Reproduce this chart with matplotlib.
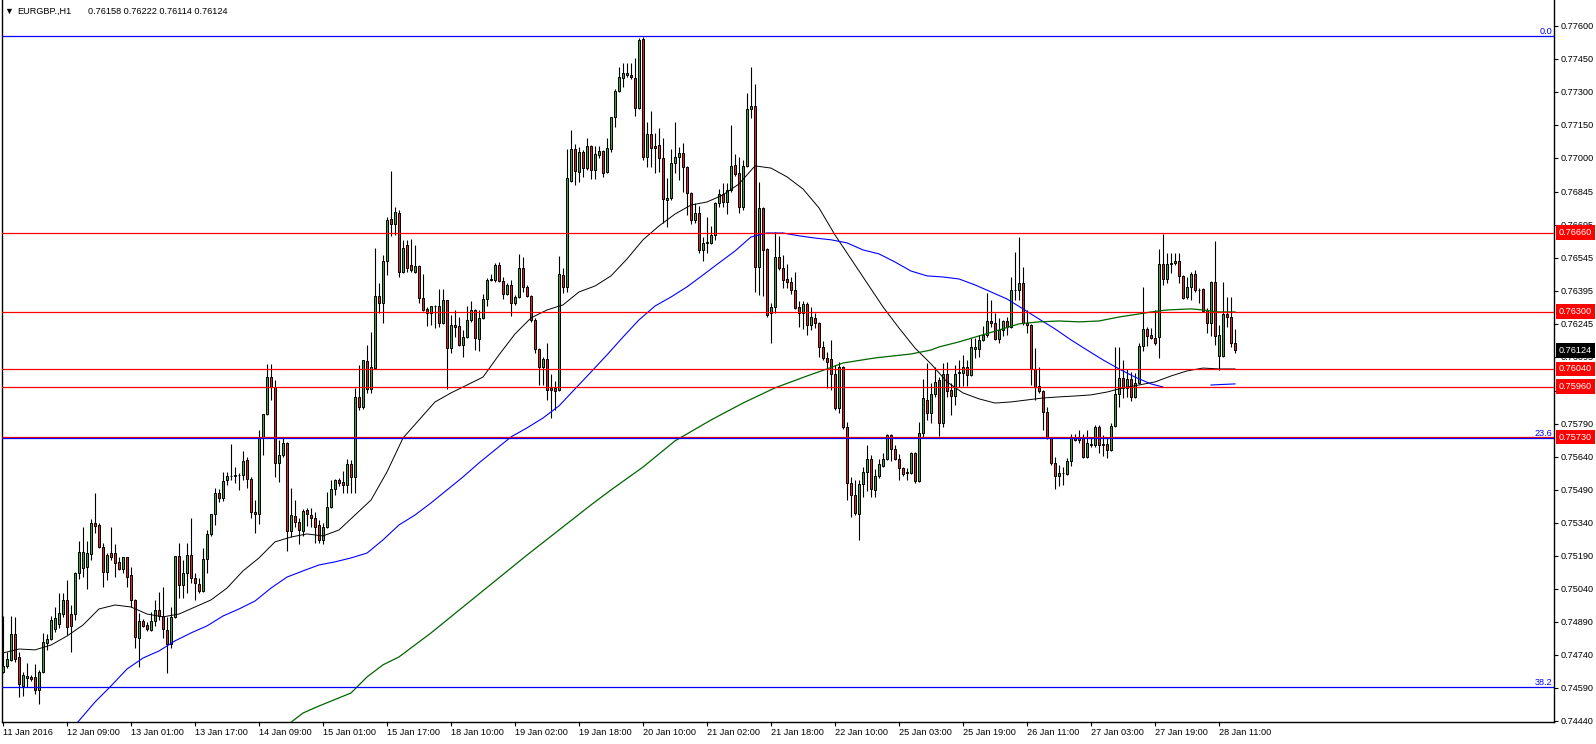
import numpy as np
import matplotlib
matplotlib.use("Agg")
import matplotlib.pyplot as plt
from matplotlib.transforms import blended_transform_factory

plt.rcParams['font.family'] = ['Liberation Sans', 'DejaVu Sans']

# EURGBP H1, first visible bar is 11 Jan 17:00, last is 28 Jan 15:00
symbol = "EURGBP.,H1"
last_ohlc = "0.76158 0.76222 0.76114 0.76124"

opens = [
    0.74663, 0.74690, 0.74717, 0.74835, 0.74731, 0.74599, 0.74636, 0.74640, 0.74640, 0.74581,
    0.74663, 0.74795, 0.74813, 0.74858, 0.74881, 0.74926, 0.74990, 0.74926, 0.74926, 0.75112,
    0.75135, 0.75140, 0.75199, 0.75340, 0.75331, 0.75231, 0.75117, 0.75203, 0.75203, 0.75163,
    0.75131, 0.75185, 0.75104, 0.74990, 0.74817, 0.74895, 0.74876, 0.74854, 0.74895, 0.74945,
    0.74917, 0.74854, 0.74790, 0.74913, 0.75190, 0.75058, 0.75112, 0.75194, 0.75090, 0.75063,
    0.75031, 0.75176, 0.75290, 0.75381, 0.75476, 0.75453, 0.75535, 0.75553, 0.75553, 0.75558,
    0.75558, 0.75626, 0.75540, 0.75390, 0.75381, 0.75726, 0.75835, 0.76003, 0.75958, 0.75613,
    0.75649, 0.75703, 0.75303, 0.75372, 0.75344, 0.75303, 0.75399, 0.75376, 0.75363, 0.75331,
    0.75263, 0.75322, 0.75413, 0.75494, 0.75535, 0.75526, 0.75513, 0.75608, 0.75549, 0.75913,
    0.75867, 0.76076, 0.75949, 0.76044, 0.76372, 0.76340, 0.76531, 0.76722, 0.76699, 0.76749,
    0.76481, 0.76604, 0.76513, 0.76481, 0.76508, 0.76363, 0.76313, 0.76295, 0.76326, 0.76326,
    0.76249, 0.76353, 0.76135, 0.76240, 0.76236, 0.76149, 0.76186, 0.76263, 0.76308, 0.76176,
    0.76272, 0.76358, 0.76445, 0.76445, 0.76513, 0.76440, 0.76381, 0.76422, 0.76340, 0.76367,
    0.76499, 0.76413, 0.76372, 0.76263, 0.76131, 0.76049, 0.76085, 0.75954, 0.75954, 0.75945,
    0.76467, 0.76413, 0.76894, 0.77040, 0.76935, 0.77026, 0.76953, 0.77053, 0.76944, 0.77013,
    0.77031, 0.76935, 0.77040, 0.77185, 0.77303, 0.77362, 0.77376, 0.77376, 0.77362, 0.77226,
    0.77540, 0.77003, 0.77108, 0.77053, 0.77058, 0.76999, 0.76808, 0.76817, 0.76976, 0.77003,
    0.77022, 0.76958, 0.76840, 0.76717, 0.76749, 0.76581, 0.76613, 0.76613, 0.76649, 0.76795,
    0.76836, 0.76799, 0.76854, 0.76967, 0.76931, 0.76776, 0.76963, 0.77222, 0.77235, 0.76503,
    0.76772, 0.76585, 0.76295, 0.76322, 0.76549, 0.76499, 0.76449, 0.76435, 0.76399, 0.76322,
    0.76295, 0.76335, 0.76240, 0.76272, 0.76249, 0.76140, 0.76090, 0.76085, 0.76017, 0.75863,
    0.76049, 0.75776, 0.75522, 0.75467, 0.75381, 0.75517, 0.75572, 0.75631, 0.75490, 0.75553,
    0.75599, 0.75631, 0.75740, 0.75676, 0.75631, 0.75590, 0.75567, 0.75567, 0.75658, 0.75531,
    0.75749, 0.75899, 0.75840, 0.75926, 0.75990, 0.75794, 0.76017, 0.75945, 0.75917, 0.76022,
    0.76022, 0.76049, 0.76013, 0.76131, 0.76131, 0.76172, 0.76194, 0.76258, 0.76249, 0.76176,
    0.76217, 0.76258, 0.76231, 0.76399, 0.76399, 0.76431, 0.76249, 0.76240, 0.76040, 0.75963,
    0.75940, 0.75844, 0.75726, 0.75613, 0.75553, 0.75567, 0.75563, 0.75622, 0.75731, 0.75717,
    0.75731, 0.75640, 0.75694, 0.75694, 0.75776, 0.75699, 0.75699, 0.75672, 0.75781, 0.75926,
    0.75999, 0.75954, 0.75994, 0.75913, 0.75976, 0.76144, 0.76222, 0.76194, 0.76181, 0.76185,
    0.76517, 0.76449, 0.76517, 0.76522, 0.76531, 0.76463, 0.76367, 0.76413, 0.76472, 0.76399,
    0.76404, 0.76308, 0.76249, 0.76435, 0.76099, 0.76099, 0.76290, 0.76276, 0.76158,
]
highs = [
    0.74917, 0.74754, 0.74917, 0.74913, 0.74754, 0.74663, 0.74704, 0.74649, 0.74699, 0.74672,
    0.74840, 0.74835, 0.74917, 0.74958, 0.75022, 0.75022, 0.75081, 0.74967, 0.75117, 0.75258,
    0.75322, 0.75258, 0.75358, 0.75476, 0.75340, 0.75249, 0.75203, 0.75322, 0.75244, 0.75185,
    0.75185, 0.75185, 0.75140, 0.74995, 0.74931, 0.74904, 0.74890, 0.74936, 0.74990, 0.75026,
    0.75049, 0.74913, 0.74958, 0.75190, 0.75249, 0.75172, 0.75249, 0.75363, 0.75112, 0.75090,
    0.75226, 0.75308, 0.75381, 0.75499, 0.75494, 0.75572, 0.75572, 0.75699, 0.75594, 0.75567,
    0.75667, 0.75640, 0.75549, 0.75444, 0.75763, 0.75835, 0.76063, 0.76063, 0.75990, 0.75717,
    0.75731, 0.75708, 0.75499, 0.75444, 0.75363, 0.75404, 0.75408, 0.75408, 0.75390, 0.75353,
    0.75340, 0.75481, 0.75535, 0.75540, 0.75544, 0.75576, 0.75631, 0.75626, 0.75954, 0.76058,
    0.76081, 0.76149, 0.76208, 0.76590, 0.76431, 0.76558, 0.76731, 0.76940, 0.76777, 0.76763,
    0.76627, 0.76627, 0.76631, 0.76604, 0.76513, 0.76472, 0.76322, 0.76326, 0.76331, 0.76404,
    0.76404, 0.76353, 0.76285, 0.76308, 0.76276, 0.76217, 0.76326, 0.76349, 0.76313, 0.76308,
    0.76381, 0.76454, 0.76472, 0.76522, 0.76526, 0.76458, 0.76431, 0.76445, 0.76376, 0.76563,
    0.76549, 0.76422, 0.76376, 0.76272, 0.76135, 0.76094, 0.76158, 0.76017, 0.75985, 0.76554,
    0.76499, 0.77040, 0.77126, 0.77063, 0.77049, 0.77035, 0.77090, 0.77058, 0.77053, 0.77053,
    0.77035, 0.77090, 0.77185, 0.77313, 0.77412, 0.77431, 0.77431, 0.77431, 0.77453, 0.77544,
    0.77549, 0.77162, 0.77212, 0.77112, 0.77135, 0.77090, 0.76908, 0.77040, 0.77162, 0.77049,
    0.77067, 0.76963, 0.76845, 0.76795, 0.76781, 0.76640, 0.76731, 0.76690, 0.76799, 0.76858,
    0.76885, 0.76885, 0.77149, 0.77017, 0.77003, 0.76990, 0.77294, 0.77412, 0.77335, 0.76890,
    0.76777, 0.76590, 0.76340, 0.76663, 0.76645, 0.76558, 0.76517, 0.76458, 0.76481, 0.76349,
    0.76349, 0.76345, 0.76322, 0.76295, 0.76254, 0.76167, 0.76117, 0.76172, 0.76058, 0.76072,
    0.76053, 0.75799, 0.75549, 0.75535, 0.75535, 0.75594, 0.75694, 0.75649, 0.75585, 0.75631,
    0.75658, 0.75744, 0.75744, 0.75694, 0.75654, 0.75594, 0.75590, 0.75663, 0.75663, 0.75799,
    0.75994, 0.76067, 0.75976, 0.76049, 0.76003, 0.76067, 0.76072, 0.75976, 0.76058, 0.76081,
    0.76104, 0.76081, 0.76181, 0.76181, 0.76194, 0.76236, 0.76385, 0.76353, 0.76295, 0.76272,
    0.76263, 0.76276, 0.76458, 0.76572, 0.76640, 0.76503, 0.76308, 0.76245, 0.76135, 0.76049,
    0.75945, 0.75867, 0.75731, 0.75640, 0.75604, 0.75594, 0.75635, 0.75744, 0.75744, 0.75763,
    0.75744, 0.75763, 0.75731, 0.75785, 0.75785, 0.75740, 0.75731, 0.75794, 0.76140, 0.76140,
    0.76081, 0.76040, 0.76026, 0.76022, 0.76158, 0.76413, 0.76231, 0.76226, 0.76308, 0.76585,
    0.76653, 0.76567, 0.76567, 0.76567, 0.76567, 0.76467, 0.76458, 0.76481, 0.76490, 0.76408,
    0.76408, 0.76317, 0.76440, 0.76622, 0.76240, 0.76435, 0.76367, 0.76367, 0.76222,
]
lows = [
    0.74658, 0.74681, 0.74712, 0.74708, 0.74549, 0.74554, 0.74595, 0.74622, 0.74563, 0.74517,
    0.74658, 0.74763, 0.74808, 0.74845, 0.74863, 0.74913, 0.74831, 0.74754, 0.74899, 0.75085,
    0.75094, 0.75040, 0.75172, 0.75294, 0.75226, 0.75049, 0.75081, 0.75172, 0.75094, 0.75126,
    0.75112, 0.75049, 0.74958, 0.74772, 0.74686, 0.74867, 0.74849, 0.74849, 0.74872, 0.74899,
    0.74817, 0.74658, 0.74772, 0.74908, 0.74999, 0.74999, 0.75022, 0.75067, 0.74990, 0.75022,
    0.75026, 0.75112, 0.75281, 0.75331, 0.75435, 0.75440, 0.75513, 0.75535, 0.75522, 0.75490,
    0.75535, 0.75499, 0.75363, 0.75294, 0.75335, 0.75649, 0.75831, 0.75899, 0.75549, 0.75526,
    0.75640, 0.75213, 0.75276, 0.75322, 0.75244, 0.75281, 0.75326, 0.75322, 0.75249, 0.75249,
    0.75244, 0.75317, 0.75408, 0.75467, 0.75508, 0.75476, 0.75476, 0.75476, 0.75476, 0.75853,
    0.75858, 0.75931, 0.75931, 0.76040, 0.76295, 0.76249, 0.76467, 0.76645, 0.76649, 0.76458,
    0.76476, 0.76481, 0.76481, 0.76476, 0.76340, 0.76304, 0.76236, 0.76240, 0.76226, 0.76231,
    0.76245, 0.75949, 0.76113, 0.76186, 0.76144, 0.76094, 0.76181, 0.76254, 0.76126, 0.76122,
    0.76267, 0.76326, 0.76440, 0.76435, 0.76435, 0.76358, 0.76376, 0.76281, 0.76331, 0.76363,
    0.76390, 0.76367, 0.76254, 0.76113, 0.75967, 0.75967, 0.75899, 0.75817, 0.75853, 0.75940,
    0.76385, 0.76390, 0.76890, 0.76876, 0.76890, 0.76913, 0.76944, 0.76903, 0.76903, 0.76999,
    0.76913, 0.76930, 0.77026, 0.77140, 0.77299, 0.77322, 0.77367, 0.77358, 0.77190, 0.77222,
    0.76990, 0.76958, 0.76958, 0.76931, 0.76935, 0.76703, 0.76685, 0.76808, 0.76931, 0.76899,
    0.76844, 0.76740, 0.76699, 0.76703, 0.76568, 0.76531, 0.76568, 0.76608, 0.76627, 0.76776,
    0.76776, 0.76745, 0.76845, 0.76917, 0.76749, 0.76763, 0.76958, 0.77181, 0.76390, 0.76376,
    0.76372, 0.76276, 0.76158, 0.76295, 0.76490, 0.76408, 0.76408, 0.76381, 0.76313, 0.76231,
    0.76222, 0.76195, 0.76217, 0.76226, 0.76094, 0.76081, 0.75954, 0.75945, 0.75853, 0.75840,
    0.75767, 0.75444, 0.75367, 0.75376, 0.75263, 0.75458, 0.75485, 0.75458, 0.75458, 0.75544,
    0.75594, 0.75626, 0.75622, 0.75626, 0.75535, 0.75553, 0.75535, 0.75563, 0.75522, 0.75526,
    0.75726, 0.75808, 0.75794, 0.75913, 0.75735, 0.75776, 0.75913, 0.75831, 0.75876, 0.75958,
    0.75963, 0.75963, 0.76008, 0.76090, 0.76094, 0.76167, 0.76185, 0.76231, 0.76172, 0.76158,
    0.76190, 0.76194, 0.76226, 0.76353, 0.76353, 0.76240, 0.76204, 0.75967, 0.75899, 0.75931,
    0.75763, 0.75722, 0.75604, 0.75494, 0.75508, 0.75513, 0.75558, 0.75599, 0.75713, 0.75703,
    0.75635, 0.75635, 0.75685, 0.75685, 0.75658, 0.75644, 0.75635, 0.75667, 0.75776, 0.75867,
    0.75908, 0.75913, 0.75894, 0.75908, 0.75972, 0.76122, 0.76144, 0.76176, 0.76149, 0.76090,
    0.76422, 0.76431, 0.76476, 0.76513, 0.76431, 0.76358, 0.76358, 0.76353, 0.76390, 0.76340,
    0.76299, 0.76204, 0.76190, 0.76149, 0.76035, 0.76094, 0.76231, 0.76140, 0.76114,
]
closes = [
    0.74690, 0.74722, 0.74835, 0.74722, 0.74608, 0.74649, 0.74645, 0.74631, 0.74581, 0.74663,
    0.74799, 0.74813, 0.74899, 0.74908, 0.74931, 0.74990, 0.74867, 0.74872, 0.75112, 0.75208,
    0.75208, 0.75203, 0.75340, 0.75326, 0.75231, 0.75117, 0.75194, 0.75185, 0.75158, 0.75131,
    0.75185, 0.75094, 0.74990, 0.74822, 0.74895, 0.74872, 0.74858, 0.74895, 0.74945, 0.74917,
    0.74858, 0.74790, 0.74913, 0.75190, 0.75058, 0.75112, 0.75194, 0.75090, 0.75067, 0.75031,
    0.75176, 0.75290, 0.75381, 0.75476, 0.75453, 0.75531, 0.75553, 0.75555, 0.75558, 0.75556,
    0.75622, 0.75540, 0.75390, 0.75381, 0.75726, 0.75835, 0.76003, 0.75958, 0.75613, 0.75649,
    0.75703, 0.75303, 0.75376, 0.75344, 0.75308, 0.75394, 0.75381, 0.75363, 0.75322, 0.75263,
    0.75322, 0.75413, 0.75494, 0.75535, 0.75522, 0.75513, 0.75608, 0.75549, 0.75913, 0.75867,
    0.76081, 0.75949, 0.76049, 0.76372, 0.76340, 0.76531, 0.76717, 0.76699, 0.76754, 0.76481,
    0.76590, 0.76499, 0.76490, 0.76508, 0.76363, 0.76308, 0.76295, 0.76326, 0.76324, 0.76249,
    0.76353, 0.76135, 0.76240, 0.76231, 0.76149, 0.76186, 0.76263, 0.76308, 0.76181, 0.76272,
    0.76358, 0.76445, 0.76449, 0.76513, 0.76440, 0.76381, 0.76422, 0.76340, 0.76367, 0.76499,
    0.76413, 0.76372, 0.76263, 0.76131, 0.76049, 0.76085, 0.75945, 0.75945, 0.75940, 0.76472,
    0.76413, 0.76908, 0.77040, 0.76940, 0.77026, 0.76953, 0.77053, 0.76944, 0.77017, 0.77031,
    0.76931, 0.77044, 0.77185, 0.77303, 0.77367, 0.77385, 0.77385, 0.77367, 0.77226, 0.77535,
    0.77003, 0.77108, 0.77044, 0.77044, 0.76999, 0.76813, 0.76817, 0.76976, 0.77003, 0.77022,
    0.76958, 0.76840, 0.76717, 0.76749, 0.76581, 0.76613, 0.76617, 0.76649, 0.76795, 0.76836,
    0.76799, 0.76854, 0.76963, 0.76926, 0.76776, 0.76963, 0.77222, 0.77235, 0.76503, 0.76772,
    0.76581, 0.76285, 0.76322, 0.76549, 0.76499, 0.76445, 0.76435, 0.76399, 0.76317, 0.76295,
    0.76335, 0.76240, 0.76276, 0.76249, 0.76140, 0.76090, 0.76072, 0.76017, 0.75863, 0.76049,
    0.75776, 0.75522, 0.75467, 0.75385, 0.75517, 0.75572, 0.75631, 0.75494, 0.75553, 0.75608,
    0.75631, 0.75740, 0.75676, 0.75631, 0.75590, 0.75563, 0.75572, 0.75658, 0.75531, 0.75749,
    0.75908, 0.75840, 0.75926, 0.75981, 0.75794, 0.76017, 0.75940, 0.75917, 0.76017, 0.76026,
    0.76049, 0.76013, 0.76140, 0.76140, 0.76172, 0.76194, 0.76258, 0.76249, 0.76176, 0.76217,
    0.76258, 0.76231, 0.76399, 0.76397, 0.76431, 0.76249, 0.76240, 0.76040, 0.75958, 0.75940,
    0.75844, 0.75726, 0.75613, 0.75553, 0.75567, 0.75569, 0.75622, 0.75731, 0.75717, 0.75731,
    0.75640, 0.75703, 0.75699, 0.75776, 0.75694, 0.75694, 0.75672, 0.75781, 0.75926, 0.75999,
    0.75954, 0.75994, 0.75913, 0.75976, 0.76144, 0.76222, 0.76190, 0.76181, 0.76158, 0.76517,
    0.76449, 0.76517, 0.76522, 0.76531, 0.76463, 0.76363, 0.76413, 0.76472, 0.76399, 0.76397,
    0.76304, 0.76249, 0.76435, 0.76190, 0.76194, 0.76290, 0.76276, 0.76158, 0.76124,
]

# moving averages (bar index, price)
ma_black_idx = list(range(0, 309, 4))
ma_black = [
    0.74749, 0.74767, 0.74763, 0.74785, 0.74826, 0.74876, 0.74949, 0.74967, 0.74958, 0.74926,
    0.74913, 0.74926, 0.74958, 0.74990, 0.75044, 0.75122, 0.75181, 0.75254, 0.75276, 0.75290,
    0.75281, 0.75308, 0.75376, 0.75444, 0.75572, 0.75726, 0.75808, 0.75890, 0.75931, 0.75967,
    0.76003, 0.76104, 0.76199, 0.76272, 0.76308, 0.76331, 0.76390, 0.76417, 0.76463, 0.76540,
    0.76627, 0.76690, 0.76744, 0.76785, 0.76799, 0.76831, 0.76881, 0.76963, 0.76953, 0.76913,
    0.76858, 0.76772, 0.76649, 0.76540, 0.76431, 0.76322, 0.76226, 0.76135, 0.76063, 0.75981,
    0.75931, 0.75904, 0.75885, 0.75890, 0.75899, 0.75908, 0.75913, 0.75917, 0.75922, 0.75935,
    0.75954, 0.75967, 0.75981, 0.76008, 0.76031, 0.76044, 0.76040, 0.76040,
]
ma_blue_idx = [
    18, 23, 27, 31, 35, 39, 43, 47, 51, 55, 59, 63, 67, 71, 75, 79, 83, 87, 91, 95,
    99, 103, 107, 111, 115, 119, 123, 127, 131, 135, 139, 143, 147, 151, 155, 159, 163, 167, 171, 175,
    179, 183, 187, 191, 195, 199, 203, 207, 211, 215, 219, 223, 227, 231, 235, 239, 243, 247, 251, 255,
    259, 263, 267, 271, 275, 279, 283, 287, 290, 296, 302, 308,
]
ma_blue = [
    0.74420, 0.74526, 0.74599, 0.74676, 0.74726, 0.74758, 0.74804, 0.74840, 0.74872, 0.74917,
    0.74949, 0.74985, 0.75044, 0.75094, 0.75122, 0.75149, 0.75163, 0.75181, 0.75203, 0.75263,
    0.75331, 0.75376, 0.75431, 0.75490, 0.75549, 0.75613, 0.75672, 0.75731, 0.75772, 0.75817,
    0.75872, 0.75949, 0.76026, 0.76104, 0.76185, 0.76263, 0.76326, 0.76367, 0.76413, 0.76467,
    0.76522, 0.76576, 0.76640, 0.76658, 0.76658, 0.76645, 0.76635, 0.76627, 0.76613, 0.76581,
    0.76563, 0.76526, 0.76485, 0.76463, 0.76458, 0.76449, 0.76422, 0.76390, 0.76358, 0.76313,
    0.76267, 0.76222, 0.76172, 0.76126, 0.76081, 0.76040, 0.76003, 0.75972, 0.75958, None,
    0.75967, 0.75972,
]
ma_green_idx = [
    71, 75, 79, 87, 91, 95, 99, 107, 115, 123, 131, 139, 147, 152, 160, 168, 177, 185, 193, 201,
    206, 210, 218, 227, 232, 234, 239, 244, 249, 254, 259, 264, 269, 274, 279, 284, 287, 291, 297, 300,
    304, 308,
]
ma_green = [
    0.74420, 0.74476, 0.74508, 0.74567, 0.74640, 0.74695, 0.74731, 0.74840, 0.74958, 0.75076,
    0.75194, 0.75308, 0.75422, 0.75490, 0.75594, 0.75713, 0.75808, 0.75885, 0.75954, 0.76008,
    0.76040, 0.76067, 0.76090, 0.76108, 0.76126, 0.76140, 0.76163, 0.76190, 0.76217, 0.76245,
    0.76254, 0.76258, 0.76254, 0.76258, 0.76276, 0.76290, 0.76299, 0.76308, 0.76313, 0.76308,
    0.76299, 0.76299,
]

sr_levels = [0.76660, 0.76300, 0.76040, 0.75960, 0.75730]
fib_levels = [0.77553, 0.75726, 0.74593]
fib_names = ["0.0", "23.6", "38.2"]
current_price = 0.76124

time_labels = [
    "11 Jan 2016", "12 Jan 09:00", "13 Jan 01:00", "13 Jan 17:00", "14 Jan 09:00",
    "15 Jan 01:00", "15 Jan 17:00", "18 Jan 10:00", "19 Jan 02:00", "19 Jan 18:00",
    "20 Jan 10:00", "21 Jan 02:00", "21 Jan 18:00", "22 Jan 10:00", "25 Jan 03:00",
    "25 Jan 19:00", "26 Jan 11:00", "27 Jan 03:00", "27 Jan 19:00", "28 Jan 11:00",
]
price_ticks = [
    0.77600, 0.77450, 0.77300, 0.77150, 0.77000, 0.76845, 0.76695, 0.76545, 0.76395, 0.76245,
    0.76095, 0.75940, 0.75790, 0.75640, 0.75490, 0.75340, 0.75190, 0.75040, 0.74890, 0.74740,
    0.74590, 0.74440,
]

BULL = '#3fa23f'
BEAR = '#d92424'
FS = 6.6

W, H = 1596, 744
fig = plt.figure(figsize=(W / 100, H / 100), dpi=100)
fig.patch.set_facecolor('white')
# chart area: x 2..1554 px, y 0..722 px
ax = fig.add_axes([2 / W, 22 / H, 1552 / W, 722 / H])
ax.set_xlim(-0.25, 387.75)
ax.set_ylim(0.744352, 0.77717)

o = np.array(opens)
h = np.array(highs)
l = np.array(lows)
c = np.array(closes)
x = np.arange(len(o))
up = c >= o

ax.vlines(x, l, h, color='black', lw=0.8, zorder=2)
ax.bar(x[up], (c - o)[up], bottom=o[up], width=0.55, color=BULL,
       edgecolor='black', linewidth=0.7, zorder=3)
ax.bar(x[~up], (c - o)[~up], bottom=o[~up], width=0.55, color=BEAR,
       edgecolor='black', linewidth=0.7, zorder=3)

ax.plot(ma_black_idx, ma_black, color='black', lw=0.7, zorder=4)
ax.plot(ma_blue_idx, np.array(ma_blue, dtype=float), color='#0000ff', lw=0.8, zorder=4)
ax.plot(ma_green_idx, ma_green, color='#006400', lw=0.9, zorder=4)

for lv in sr_levels:
    ax.axhline(lv, color='#ff0000', lw=0.9, zorder=5)
for lv in fib_levels:
    ax.axhline(lv, color='#0000ff', lw=0.9, zorder=5)

trans = blended_transform_factory(ax.transAxes, ax.transData)
for lv, name in zip(fib_levels, fib_names):
    ax.text((1552 - 2) / 1552, lv, name, transform=trans, ha='right', va='bottom',
            color='#0000ff', fontsize=FS, zorder=6)

# axes frame and ticks
for side in ['left', 'bottom', 'right']:
    ax.spines[side].set_linewidth(1.0)
    ax.spines[side].set_color('black')
ax.spines['top'].set_visible(False)

ax.yaxis.tick_right()
ax.set_yticks(price_ticks)
ax.set_yticklabels([f"{p:.5f}" for p in price_ticks])
ax.tick_params(axis='y', direction='out', length=3, width=0.8, pad=1.5,
               labelsize=FS, colors='black')

xt = np.arange(len(time_labels)) * 16
ax.set_xticks(xt)
ax.set_xticklabels(time_labels, ha='left')
ax.tick_params(axis='x', direction='out', length=3, width=0.8, pad=1.5,
               labelsize=FS, colors='black')

# price markers on the right scale
xr = (1559 - 2) / 1552
for lv in sr_levels:
    ax.text(xr, lv, f"{lv:.5f}", transform=trans, color='white', fontsize=FS,
            ha='left', va='center', zorder=10, clip_on=False,
            bbox=dict(boxstyle='square,pad=0.3', fc='#ff0000', ec='none'))
ax.text(xr, current_price, f"{current_price:.5f}", transform=trans, color='white',
        fontsize=FS, ha='left', va='center', zorder=11, clip_on=False,
        bbox=dict(boxstyle='square,pad=0.3', fc='black', ec='none'))

# header
fig.text(4 / W, 1 - 11 / H, "\u25bc", fontsize=6.5, va='center', ha='left')
fig.text(17 / W, 1 - 11 / H, symbol, fontsize=FS, va='center', ha='left')
fig.text(88 / W, 1 - 11 / H, last_ohlc, fontsize=FS, va='center', ha='left')

fig.savefig("out.png", dpi=100, facecolor='white')
